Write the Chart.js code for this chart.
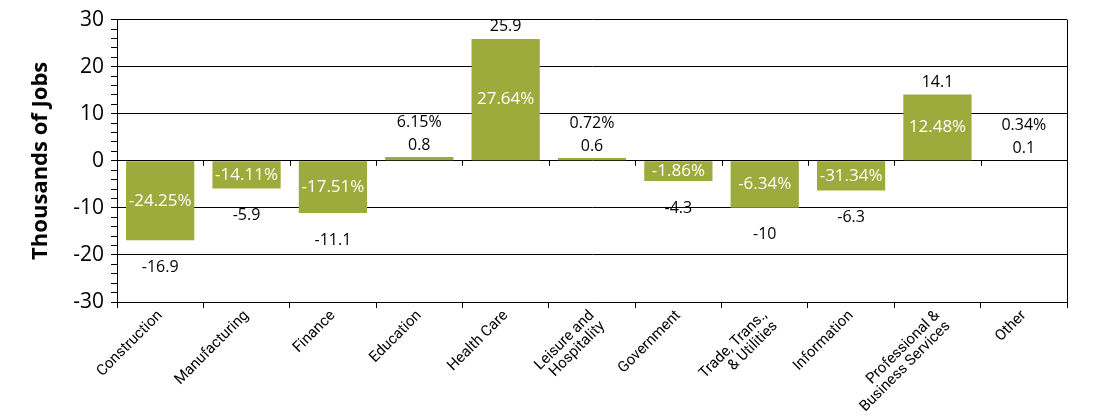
<!DOCTYPE html>
<html>
<head>
<meta charset="utf-8">
<script src="https://cdn.jsdelivr.net/npm/chart.js@4.4.1/dist/chart.umd.min.js"></script>
<style>
  body { margin: 0; background: #fff; }
</style>
</head>
<body>
<canvas id="jobs" width="1118" height="416"></canvas>
<script>
// job change by sector, thousands of jobs
const categories = [
    'Construction', 'Manufacturing', 'Finance', 'Education', 'Health Care',
    ['Leisure and', 'Hospitality'], 'Government', ['Trade, Trans.,', '& Utilities'],
    'Information', ['Professional &', 'Business Services'], 'Other'
];
const jobChange = [-16.9, -5.9, -11.1, 0.8, 25.9, 0.6, -4.3, -10, -6.3, 14.1, 0.1];
const pctChange = ['-24.25%', '-14.11%', '-17.51%', '6.15%', '27.64%', '0.72%',
    '-1.86%', '-6.34%', '-31.34%', '12.48%', '0.34%'];
const yMin = -30;
const yMax = 30;

const barColor = '#9cab3b';
const valueFont = "16px 'Open Sans', 'Noto Sans', sans-serif";
const pctFont = "17px 'Open Sans', 'Noto Sans', sans-serif";

const barLabels = {
    id: 'barLabels',
    afterDatasetsDraw(chart) {
        let ctx = chart.ctx;
        let meta = chart.getDatasetMeta(0);
        let area = chart.chartArea;
        let x = chart.scales.x;
        let zero = chart.scales.y.getPixelForValue(0);
        ctx.save();

        // small tick marks along the zero line
        ctx.strokeStyle = '#000';
        ctx.lineWidth = 1;
        let half = (x.getPixelForValue(1) - x.getPixelForValue(0)) / 2;
        for (let i = 1; i < categories.length; i++) {
            let px = Math.round(x.getPixelForValue(i) - half) + 0.5;
            ctx.beginPath();
            ctx.moveTo(px, zero);
            ctx.lineTo(px, zero + 5);
            ctx.stroke();
        }
        // right border of plot
        ctx.beginPath();
        ctx.moveTo(Math.round(area.right) + 0.5, area.top);
        ctx.lineTo(Math.round(area.right) + 0.5, area.bottom + 6);
        ctx.stroke();

        ctx.textAlign = 'center';
        ctx.textBaseline = 'middle';
        meta.data.forEach((bar, i) => {
            let v = jobChange[i];
            let h = Math.abs(bar.base - bar.y);
            if (h >= 18) {
                ctx.fillStyle = '#fff';
                ctx.font = pctFont;
                ctx.fillText(pctChange[i], bar.x, (bar.y + bar.base) / 2);
                ctx.font = valueFont;
                ctx.fillStyle = '#000';
                ctx.fillText(String(v), bar.x, v >= 0 ? bar.y - 12 : bar.y + 27);
            } else {
                ctx.font = valueFont;
                ctx.fillStyle = '#000';
                ctx.fillText(String(v), bar.x, bar.y - 12);
                ctx.fillText(pctChange[i], bar.x, bar.y - 35);
            }
        });
        ctx.restore();
    }
};

new Chart(document.getElementById('jobs').getContext('2d'), {
    type: 'bar',
    data: {
        labels: categories,
        datasets: [{
            data: jobChange,
            backgroundColor: barColor,
            barPercentage: 0.79,
            categoryPercentage: 1
        }]
    },
    options: {
        responsive: false,
        animation: false,
        layout: { padding: { left: 24, right: 51, top: 8, bottom: 0 } },
        plugins: {
            legend: { display: false },
            tooltip: { enabled: false }
        },
        scales: {
            x: {
                offset: true,
                grid: {
                    offset: true,
                    drawOnChartArea: false,
                    color: '#000',
                    tickLength: 6
                },
                border: { color: '#000' },
                ticks: {
                    color: '#000',
                    maxRotation: 45,
                    minRotation: 45,
                    autoSkip: false,
                    padding: 0,
                    font: { family: "'Roboto', sans-serif", size: 15, lineHeight: 1.0 }
                },
                afterFit(scale) { scale.height = 114; }
            },
            y: {
                min: yMin,
                max: yMax,
                grid: {
                    color: c => c.tick && c.tick.value % 10 === 0 ? '#000' : 'rgba(0,0,0,0)',
                    tickColor: '#000',
                    tickLength: 6
                },
                border: { color: '#000' },
                ticks: {
                    stepSize: 2,
                    autoSkip: false,
                    color: '#000',
                    padding: 7,
                    font: { family: "'Open Sans', 'Noto Sans', sans-serif", size: 21 },
                    callback: v => v % 10 === 0 ? v : ''
                },
                title: {
                    display: true,
                    text: 'Thousands of Jobs',
                    color: '#000',
                    font: { family: "'Open Sans', 'Noto Sans', sans-serif", size: 22, weight: 'bold' }
                },
                afterFit(scale) { scale.width = 93; }
            }
        }
    },
    plugins: [barLabels]
});
</script>
</body>
</html>
